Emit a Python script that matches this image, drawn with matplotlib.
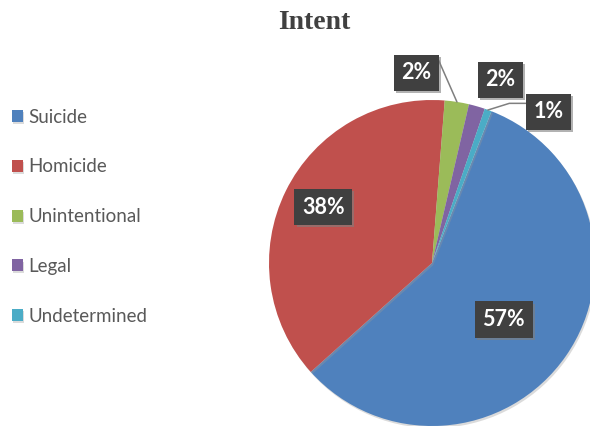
import matplotlib
matplotlib.use("Agg")
import matplotlib.pyplot as plt
import matplotlib.patheffects as pe
import numpy as np

# data
categories = ["Suicide", "Homicide", "Unintentional", "Legal", "Undetermined"]
shares = [57.4, 37.9, 2.4, 1.6, 0.7]
colors = ["#4F81BD", "#C0504D", "#9BBB59", "#8064A2", "#4BACC6"]

# where each data label sits: distance from centre and angle shift from wedge middle
label_r = [0.56, 0.75, 1.17, 1.20, 1.17]
label_shift = [-3.5, -1.0, 13.5, -4.5, -17.5]
leader = [False, False, True, False, True]

fig = plt.figure(figsize=(5.9, 4.26), dpi=100)
fig.text(0.532, 0.932, "Intent", ha="center", va="baseline",
         family="Liberation Serif", weight="bold", size=20, color="#404040")

ax = fig.add_axes([269 / 590, 0, 326 / 590, 326 / 426])
wedges, _ = ax.pie(shares, colors=colors, startangle=68.6, counterclock=False,
                   wedgeprops=dict(linewidth=0))
for w in wedges:
    w.set_path_effects([pe.SimplePatchShadow(offset=(1, -1.5), shadow_rgbFace="#999999", alpha=0.35),
                        pe.Normal()])
ax.set_xlim(-1, 1)
ax.set_ylim(-1, 1)
ax.set_aspect("equal")
ax.axis("off")

for i, w in enumerate(wedges):
    mid = np.deg2rad((w.theta1 + w.theta2) / 2)
    ang = mid + np.deg2rad(label_shift[i])
    lx, ly = label_r[i] * np.cos(ang), label_r[i] * np.sin(ang)
    if leader[i]:
        ex, ey = np.cos(mid), np.sin(mid)
        if lx < ex:
            # label up and left: line rises to the right edge of the box
            ax.annotate("", xy=(ex, ey), xytext=(lx + 0.13, ly + 0.28 * 0.33),
                        arrowprops=dict(arrowstyle="-", color="#7f7f7f", lw=1.1,
                                        shrinkA=0, shrinkB=0), annotation_clip=False)
        else:
            elbow = (lx - 0.24, ly + 0.053)
            ax.plot([ex, elbow[0], lx - 0.13], [ey, elbow[1], elbow[1]],
                    color="#7f7f7f", lw=1.1, clip_on=False, zorder=3)
    t = ax.text(lx, ly, "%.0f%%" % shares[i], ha="center", va="center",
                family="Lato", weight="bold", size=15.5, color="white", zorder=5,
                bbox=dict(boxstyle="square,pad=0.35", fc="#404040", ec="none"))
    t.get_bbox_patch().set_path_effects([
        pe.SimplePatchShadow(offset=(1.5, -1.5), shadow_rgbFace="#7f7f7f", alpha=0.6),
        pe.Normal()])

fig.legend(wedges, categories, loc="center left", bbox_to_anchor=(11.7 / 590, 1 - 216.7 / 426),
           frameon=False, borderpad=0, borderaxespad=0, prop=dict(family="Lato", size=13.5),
           labelcolor="#595959", handlelength=0.6, handleheight=0.6, handletextpad=0.3,
           labelspacing=1.75)

fig.savefig("out.png", dpi=100)
